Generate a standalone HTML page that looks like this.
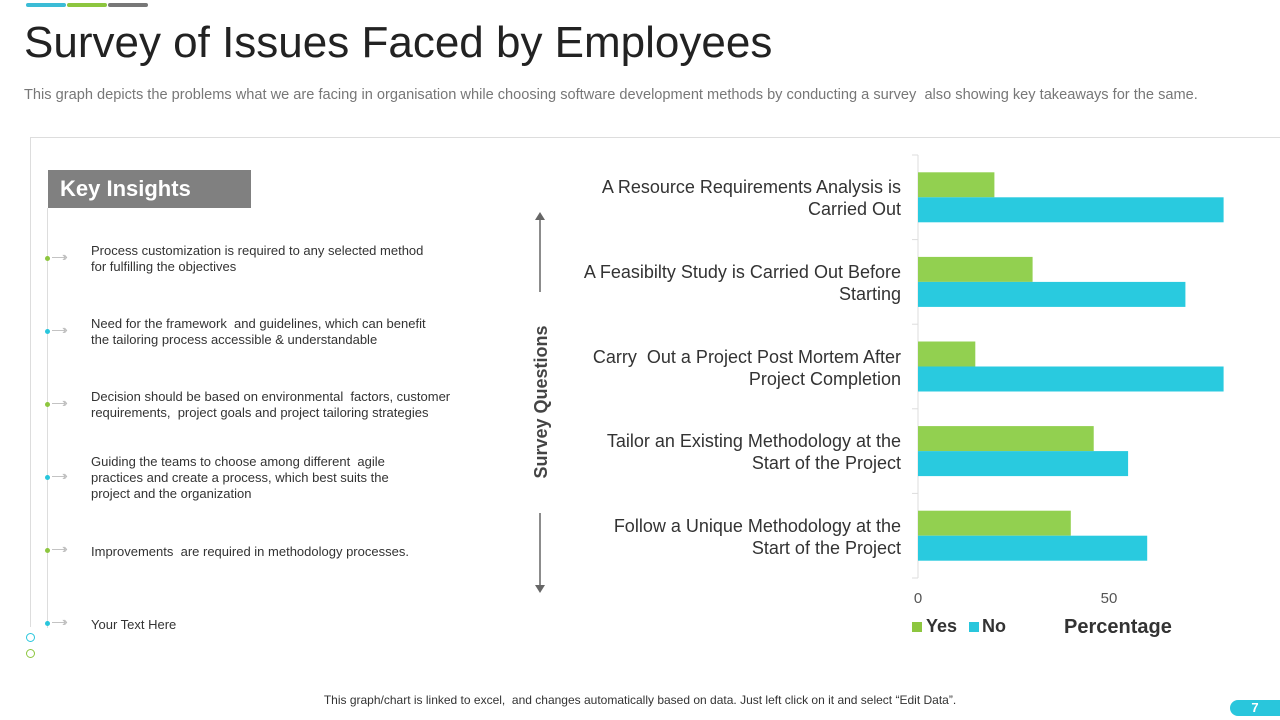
<!DOCTYPE html>
<html><head><meta charset="utf-8"><style>
body{margin:0;width:1280px;height:720px;background:#fff;font-family:"Liberation Sans",sans-serif;position:relative;overflow:hidden}
.a{position:absolute}
.ins{position:absolute;left:91px;font-size:13px;color:#333;line-height:16px}
.dot{position:absolute;left:45px;width:5px;height:5px;border-radius:50%}
.arr{position:absolute;left:52px;color:#bbb;font-size:13px;letter-spacing:-3px}
.lbl{position:absolute;right:379px;text-align:right;font-size:18px;color:#333;line-height:22px}
</style></head><body>
<div class="a" style="left:26px;top:3px;width:40px;height:4px;background:#3bbcd6;border-radius:2px"></div>
<div class="a" style="left:67px;top:3px;width:40px;height:4px;background:#8dc63f;border-radius:2px"></div>
<div class="a" style="left:108px;top:3px;width:40px;height:4px;background:#777;border-radius:2px"></div>
<div class="a" style="left:24px;top:18px;font-size:44px;color:#222">Survey of Issues Faced by Employees</div>
<div class="a" style="left:24px;top:87px;font-size:14.6px;color:#777">This graph depicts the problems what we are facing in organisation while choosing software development methods by conducting a survey&nbsp; also showing key takeaways for the same.</div>
<div class="a" style="left:30px;top:137px;width:1250px;height:1px;background:#ddd"></div>
<div class="a" style="left:30px;top:137px;width:1px;height:490px;background:#ddd"></div>
<div class="a" style="left:48px;top:170px;width:203px;height:38px;background:#808080;color:#fff;font-weight:bold;font-size:22px;line-height:38px;padding-left:12px;box-sizing:border-box">Key Insights</div>
<div class="a" style="left:47px;top:208px;width:1px;height:420px;background:#ddd"></div>
<div class="dot" style="top:256px;background:#8dc63f"></div><div class="arr" style="top:249px">—››</div>
<div class="ins" style="top:243px">Process customization is required to any selected method<br>for fulfilling the objectives</div>
<div class="dot" style="top:329px;background:#29c6dc"></div><div class="arr" style="top:322px">—››</div>
<div class="ins" style="top:316px">Need for the framework&nbsp; and guidelines, which can benefit<br>the tailoring process accessible &amp; understandable</div>
<div class="dot" style="top:402px;background:#8dc63f"></div><div class="arr" style="top:395px">—››</div>
<div class="ins" style="top:389px">Decision should be based on environmental&nbsp; factors, customer<br>requirements,&nbsp; project goals and project tailoring strategies</div>
<div class="dot" style="top:475px;background:#29c6dc"></div><div class="arr" style="top:468px">—››</div>
<div class="ins" style="top:454px">Guiding the teams to choose among different&nbsp; agile<br>practices and create a process, which best suits the<br>project and the organization</div>
<div class="dot" style="top:548px;background:#8dc63f"></div><div class="arr" style="top:541px">—››</div>
<div class="ins" style="top:544px">Improvements&nbsp; are required in methodology processes.</div>
<div class="dot" style="top:621px;background:#29c6dc"></div><div class="arr" style="top:614px">—››</div>
<div class="ins" style="top:617px">Your Text Here</div>
<div class="a" style="left:26px;top:633px;width:7px;height:7px;border:1px solid #29c6dc;border-radius:50%"></div>
<div class="a" style="left:26px;top:649px;width:7px;height:7px;border:1px solid #8dc63f;border-radius:50%"></div>

<svg class="a" style="left:0;top:0" width="1280" height="720" id="chart">
<line x1="540" y1="218" x2="540" y2="292" stroke="#666" stroke-width="1.5"/>
<polygon points="535,220 545,220 540,212" fill="#666"/>
<line x1="540" y1="513" x2="540" y2="587" stroke="#666" stroke-width="1.5"/>
<polygon points="535,585 545,585 540,593" fill="#666"/>
<text x="547" y="402" transform="rotate(-90 547 402)" text-anchor="middle" font-size="18" font-weight="bold" fill="#444" font-family="Liberation Sans">Survey Questions</text>
<line x1="918" y1="155" x2="918" y2="578" stroke="#ddd"/>
</svg>
<div id="labels"></div>
<div class="a" style="left:912px;top:622px;width:10px;height:10px;background:#8dc63f"></div>
<div class="a" style="left:926px;top:616px;font-size:18px;font-weight:bold;color:#333">Yes</div>
<div class="a" style="left:969px;top:622px;width:10px;height:10px;background:#29c6dc"></div>
<div class="a" style="left:982px;top:616px;font-size:18px;font-weight:bold;color:#333">No</div>
<div class="a" style="left:1064px;top:616px;font-size:20px;font-weight:bold;color:#333">Percentage</div>
<div class="a" style="left:0;width:1280px;text-align:center;top:693px;font-size:12px;color:#333">This graph/chart is linked to excel,&nbsp; and changes automatically based on data. Just left click on it and select “Edit Data”.</div>
<div class="a" style="left:1230px;top:700px;width:50px;height:16px;background:#29c6dc;border-radius:8px 0 0 8px;color:#fff;font-weight:bold;font-size:13px;text-align:center;line-height:16px">7</div>
<script>
const categories=["A Resource Requirements Analysis is|Carried Out","A Feasibilty Study is Carried Out Before|Starting","Carry  Out a Project Post Mortem After|Project Completion","Tailor an Existing Methodology at the|Start of the Project","Follow a Unique Methodology at the|Start of the Project"];
const yesValues=[20,30,15,46,40];
const noValues=[80,70,80,55,60];
const xTicks=[0,50];
const svg=document.getElementById('chart');const NS='http://www.w3.org/2000/svg';
const x0=918,top0=155,bottom0=578;const xs=v=>x0+v*3.82;
const band=(bottom0-top0)/categories.length;
function el(t,a){const e=document.createElementNS(NS,t);for(const k in a)e.setAttribute(k,a[k]);svg.appendChild(e);return e;}
for(let i=0;i<=categories.length;i++){const l=el('line',{x1:912,x2:918,y1:top0+i*band,y2:top0+i*band,stroke:'#ddd'});

}
categories.forEach((c,i)=>{const yc=top0+band*i+band/2;
const b1=el('rect',{x:x0,y:yc-25,width:xs(yesValues[i])-x0,height:25,fill:'#92d050'});


const b2=el('rect',{x:x0,y:yc,width:xs(noValues[i])-x0,height:25,fill:'#29cadf'});


const d=document.createElement('div');d.className='lbl';d.style.top=(yc-21)+'px';d.innerHTML=c.split('|').join('<br>').replace(/  /g,'&nbsp; ');


document.getElementById('labels').appendChild(d);});
xTicks.forEach(v=>{const t=el('text',{x:xs(v),y:603,'text-anchor':'middle','font-size':15,fill:'#555','font-family':'Liberation Sans'});t.textContent=v;

});
</script>
</body></html>
